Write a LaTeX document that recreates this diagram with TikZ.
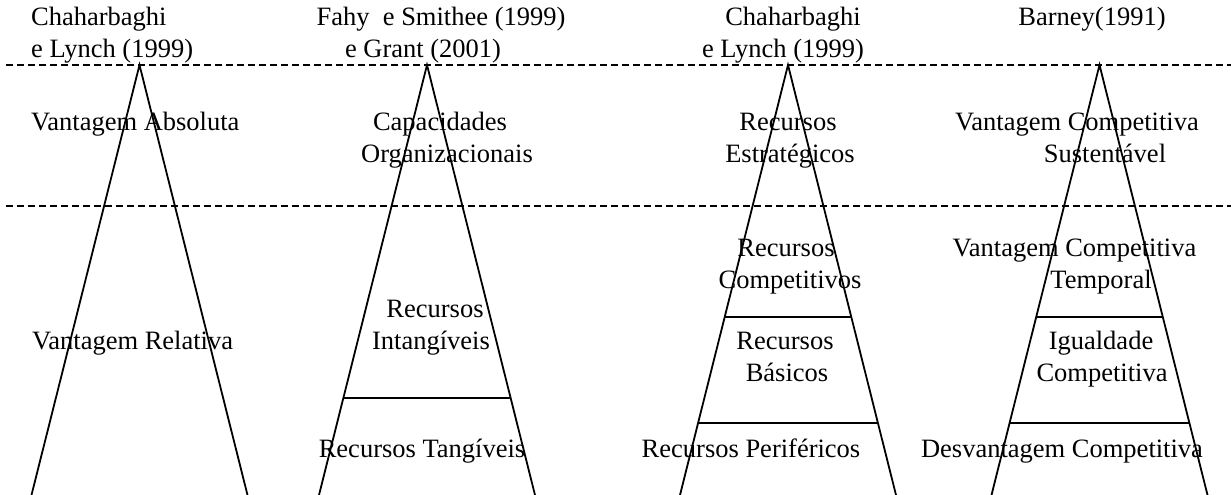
\documentclass[tikz,border=0pt]{standalone}
\usepackage{fontspec}
\setmainfont{Liberation Serif}
\begin{document}
\begin{tikzpicture}[x=1pt,y=-1pt,
  lbl/.style={anchor=base,inner sep=0pt,font=\fontsize{26.5}{32}\selectfont},
  lblw/.style={lbl,anchor=base west},
  edge/.style={line width=1.8pt},
  sepline/.style={line width=1.8pt,dash pattern=on 6.5pt off 4.5pt},
  tier/.style={line width=1.8pt}]
\useasboundingbox (0,0) rectangle (1231,495);
% dashed separators
\coordinate (d1l) at (6,65);  \coordinate (d1r) at (1231,65);
\coordinate (d2l) at (6,206); \coordinate (d2r) at (1231,206);
\draw[sepline] (d1l) -- (d1r);
\draw[sepline] (d2l) -- (d2r);
% triangles
\foreach \n/\c in {1/139.5,2/427,3/788,4/1099.5}{
  \coordinate (a\n) at (\c,65);
  \coordinate (bl\n) at (\c-108,495);
  \coordinate (br\n) at (\c+108,495);
  \draw[edge] (bl\n) -- (a\n) -- (br\n);
}
% tier lines
\coordinate (t2l) at (343.4,398); \coordinate (t2r) at (510.6,398);
\coordinate (t3al) at (724.7,317); \coordinate (t3ar) at (851.3,317);
\coordinate (t3bl) at (698.1,423); \coordinate (t3br) at (877.9,423);
\coordinate (t4al) at (1036.2,317); \coordinate (t4ar) at (1162.8,317);
\coordinate (t4bl) at (1009.6,423); \coordinate (t4br) at (1189.4,423);
\draw[tier] (t2l) -- (t2r);
\draw[tier] (t3al) -- (t3ar);
\draw[tier] (t3bl) -- (t3br);
\draw[tier] (t4al) -- (t4ar);
\draw[tier] (t4bl) -- (t4br);
% headers
\node[lblw] (h1a) at (31,26) {Chaharbaghi};
\node[lblw] (h1b) at (31,58) {e Lynch (1999)};
\node[lbl] (h2a) at (441,26) {Fahy\ \ e Smithee (1999)};
\node[lbl] (h2b) at (423,58) {e Grant (2001)};
\node[lbl] (h3a) at (793,26) {Chaharbaghi};
\node[lbl] (h3b) at (783,58) {e Lynch (1999)};
\node[lbl] (h4a) at (1092,26) {Barney(1991)};
% upper band
\node[lblw] (u1) at (31,130) {Vantagem Absoluta};
\node[lbl] (u2a) at (440,130) {Capacidades};
\node[lbl] (u2b) at (447,162) {Organizacionais};
\node[lbl] (u3a) at (788,130) {Recursos};
\node[lbl] (u3b) at (790,162) {Estratégicos};
\node[lbl] (u4a) at (1077,130) {Vantagem Competitiva};
\node[lbl] (u4b) at (1105,162) {Sustentável};
% lower band
\node[lblw] (l1) at (32,349) {Vantagem Relativa};
\node[lbl] (l2a) at (435,317) {Recursos};
\node[lbl] (l2b) at (431,349) {Intangíveis};
\node[lbl] (l2c) at (422,457) {Recursos Tangíveis};
\node[lbl] (l3a) at (786,256) {Recursos};
\node[lbl] (l3b) at (790,288) {Competitivos};
\node[lbl] (l3c) at (785,349) {Recursos};
\node[lbl] (l3d) at (787,381) {Básicos};
\node[lbl] (l3e) at (751,457) {Recursos Periféricos};
\node[lbl] (l4a) at (1074.5,256) {Vantagem Competitiva};
\node[lbl] (l4b) at (1101,288) {Temporal};
\node[lbl] (l4c) at (1101,349) {Igualdade};
\node[lbl] (l4d) at (1102,381) {Competitiva};
\node[lbl] (l4e) at (1062,457) {Desvantagem Competitiva};
\end{tikzpicture}
\end{document}
